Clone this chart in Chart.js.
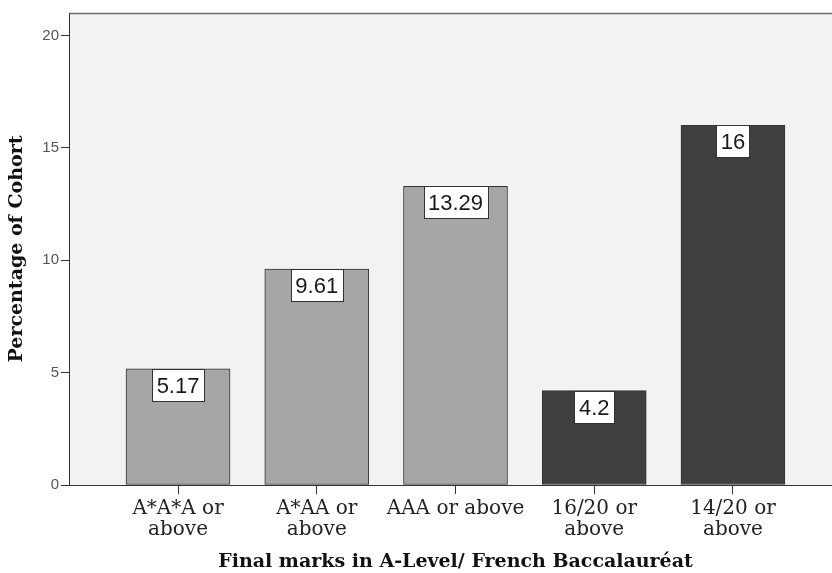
<!DOCTYPE html>
<html>
<head>
<meta charset="utf-8">
<script src="https://cdn.jsdelivr.net/npm/chart.js@4.4.1/dist/chart.umd.min.js"></script>
<style>
  html, body { margin: 0; padding: 0; background: #ffffff; overflow: hidden; }
  #wrap { position: relative; width: 832px; height: 573px; overflow: hidden; }
</style>
</head>
<body>
<div id="wrap"><canvas id="c" width="842" height="573"></canvas></div>
<script>
const categories = [
  ["A*A*A or", "above"],
  ["A*AA or", "above"],
  ["AAA or above"],
  ["16/20 or", "above"],
  ["14/20 or", "above"]
];
const values = [5.17, 9.61, 13.29, 4.2, 16];
const valueLabels = ["5.17", "9.61", "13.29", "4.2", "16"];
const groups = ["A-Level", "A-Level", "A-Level", "Baccalauréat", "Baccalauréat"];
const yTicks = [0, 5, 10, 15, 20];
const xTitle = "Final marks in A-Level/ French Baccalauréat";
const yTitle = "Percentage of Cohort";

const groupColors = { "A-Level": "#a6a6a6", "Baccalauréat": "#404040" };

const points = values.map((v, i) => ({ x: i, y: v }));

const plotBg = {
  id: "plotBg",
  beforeDraw(chart) {
    const { ctx, chartArea: a } = chart;
    ctx.save();
    ctx.fillStyle = "#f2f2f2";
    ctx.fillRect(a.left, a.top, a.right - a.left, a.bottom - a.top);
    ctx.strokeStyle = "#6b6b6b";
    ctx.lineWidth = 1.5;
    ctx.beginPath();
    ctx.moveTo(a.left, a.top + 0.5);
    ctx.lineTo(a.right, a.top + 0.5);
    ctx.stroke();
    ctx.restore();
  }
};

const boxLabels = {
  id: "boxLabels",
  afterDatasetsDraw(chart) {
    const { ctx } = chart;
    const meta = chart.getDatasetMeta(0);
    ctx.save();
    ctx.font = "22px 'Liberation Sans', Arial, sans-serif";
    ctx.textAlign = "center";
    ctx.textBaseline = "middle";
    meta.data.forEach((bar, i) => {
      const t = valueLabels[i];
      const w = Math.round(ctx.measureText(t).width + 9);
      const h = 32;
      const x0 = Math.round(bar.x - w / 2) + 0.5;
      const y0 = Math.round(bar.y) + 0.5;
      ctx.fillStyle = "#ffffff";
      ctx.fillRect(x0, y0, w, h);
      ctx.strokeStyle = "#333333";
      ctx.lineWidth = 1;
      ctx.strokeRect(x0, y0, w, h);
      ctx.fillStyle = "#1a1a1a";
      ctx.fillText(t, bar.x, y0 + h / 2 + 1);
    });
    ctx.restore();
  }
};

new Chart(document.getElementById("c"), {
  type: "bar",
  data: {
    datasets: [{
      data: points,
      backgroundColor: groups.map(g => groupColors[g]),
      borderColor: "#333333",
      borderWidth: 1,
      borderSkipped: false,
      barThickness: 104
    }]
  },
  options: {
    responsive: false,
    animation: false,
    layout: { padding: { left: 0, top: 13, right: 0, bottom: 0 } },
    plugins: { legend: { display: false }, tooltip: { enabled: false } },
    scales: {
      x: {
        type: "linear",
        offset: false,
        min: -0.786,
        max: 4.786,
        afterFit(s) { s.height = 88; },
        afterBuildTicks(s) { s.ticks = categories.map((c, i) => ({ value: i })); },
        ticks: {
          includeBounds: false,
          autoSkip: false,
          maxRotation: 0,
          padding: 4,
          color: "#222222",
          font: { family: "'DejaVu Serif', serif", size: 20, lineHeight: 1.05 },
          callback: (v) => categories[v]
        },
        grid: { offset: false, drawOnChartArea: false, drawTicks: true, tickLength: 9, color: "#333333" },
        border: { display: true, color: "#333333", width: 1 },
        title: {
          display: true,
          text: xTitle,
          color: "#111111",
          font: { family: "'DejaVu Serif', serif", size: 19, weight: "bold" },
          padding: { top: 0, bottom: 0 }
        }
      },
      y: {
        min: 0,
        max: 21,
        afterFit(s) { s.width = 69; },
        afterBuildTicks(s) { s.ticks = yTicks.map(v => ({ value: v })); },
        ticks: {
          color: "#555555",
          padding: 2,
          font: { family: "'Liberation Sans', Arial, sans-serif", size: 15 }
        },
        grid: { drawOnChartArea: false, drawTicks: true, tickLength: 8, color: "#333333" },
        border: { display: true, color: "#333333", width: 1 },
        title: {
          display: true,
          text: yTitle,
          color: "#111111",
          font: { family: "'DejaVu Serif', serif", size: 19, weight: "bold" },
          padding: { top: 6, bottom: 0 }
        }
      }
    }
  },
  plugins: [plotBg, boxLabels]
});
</script>
</body>
</html>
